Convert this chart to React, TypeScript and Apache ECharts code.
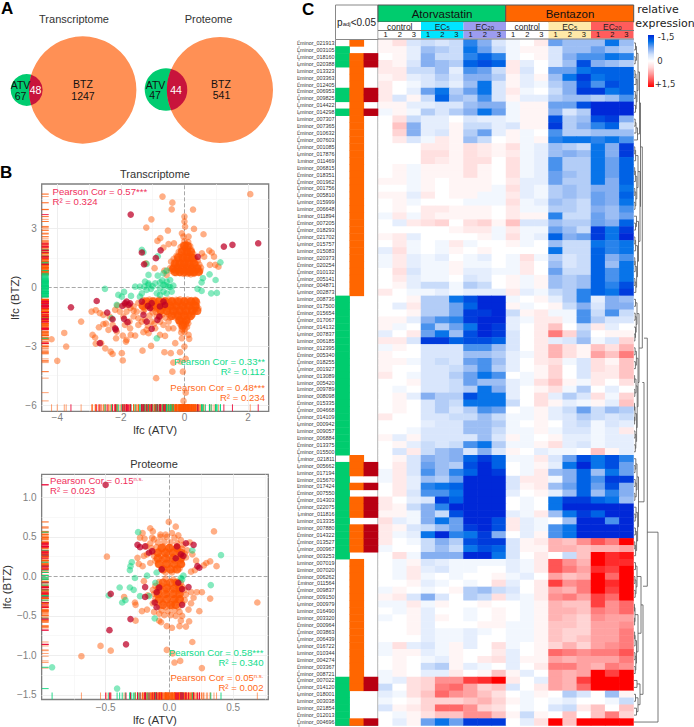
import React, { useEffect, useRef } from "react";
import * as echarts from "echarts";

const FONT = "Liberation Sans";
const GENE_IDS = ["021913","003105","018160","020388","013323","003363","012405","006953","009825","014422","014298","007307","007365","010632","007603","001085","017876","011469","006815","018351","001962","001756","005810","015999","006648","011894","007205","018293","021702","015757","015083","020373","020254","010132","005141","004871","002873","008736","017500","015654","017067","014132","007837","006185","012395","005340","018255","001927","013089","005420","009789","008098","015335","004668","014109","000942","009057","006884","013375","015500","021811","005662","017194","015670","017424","007550","014303","022075","011816","013335","007880","014322","013527","000967","003253","007019","007020","006262","011564","009837","009150","000979","016490","003320","000964","003863","006439","016722","010344","004274","003367","008721","007022","014120","018001","003038","021854","012013","004696"];
const geneLabels = GENE_IDS.map((g) => "Lminor_" + g);

// expression in tenths of a unit: 18 samples per gene
const heatRows = [
[1,3,-3,-4,-3,-4,-10,-7,-3,-1,0,2,-8,-6,-6,-6,-11,-6],
[1,1,-2,-6,-5,-4,-11,-8,-4,-1,1,1,-3,-6,-6,-8,-6,-5],
[0,1,-2,-7,-4,-4,-10,-12,-10,-1,0,1,-3,-7,-9,-9,-11,-10],
[2,1,-3,-7,-6,-5,-12,-13,-12,2,-2,0,-3,-6,-13,-7,-6,-5],
[2,2,-4,-4,-6,-2,-9,-8,-4,2,-3,0,-8,-8,-11,-12,-12,-12],
[1,2,-2,-3,-5,-3,-7,-7,-5,1,-2,1,-6,-11,-14,-11,-12,-12],
[2,0,-1,-3,-4,-2,-6,-11,-3,1,-2,-1,-5,-7,-13,-9,-13,-12],
[2,0,-2,-8,-11,-5,-8,-11,-3,2,-1,0,-4,-7,-14,-14,-11,-12],
[2,-3,1,-4,-12,-6,-5,-9,-3,1,-2,-2,-5,-6,-6,-5,-6,-9],
[1,1,-2,-2,-3,-3,-6,-7,-7,-1,1,1,-8,-8,-13,-15,-15,-15],
[-1,1,-1,-5,-3,-5,-7,-11,-8,-1,1,1,-7,-3,-5,-15,-15,-15],
[0,3,-4,-2,-2,0,-3,-2,-2,-1,1,1,-13,-5,-6,-13,-14,-7],
[0,5,-7,-2,-2,1,-4,-4,-2,-3,1,1,-14,-5,-7,-10,-12,-4],
[0,4,-7,-2,-3,1,-5,-8,-2,1,-1,0,-9,-5,-5,-6,-6,-6],
[0,2,-3,-1,2,1,-6,-4,0,1,-1,1,-10,-11,-11,-10,-11,-9],
[0,0,0,2,2,1,3,2,1,3,-1,-2,-6,-5,-4,-11,-7,-14],
[0,0,0,3,3,1,3,2,1,2,-1,-2,-6,-7,-6,-11,-7,-14],
[0,0,0,3,2,1,3,3,0,3,-1,-2,-9,-5,-5,-11,-8,-12],
[0,1,-1,1,1,1,3,1,0,3,-1,-2,-9,-5,-5,-11,-8,-12],
[0,1,-1,1,1,1,3,1,0,3,-1,-2,-8,-6,-5,-11,-8,-12],
[1,1,-1,1,0,1,1,1,0,2,-2,-2,-8,-5,-5,-11,-7,-12],
[0,0,-1,1,0,1,1,1,-1,3,-2,-1,-5,-6,-5,-7,-7,-11],
[1,1,-2,2,0,1,1,-1,-1,2,-2,-1,-5,-6,-5,-8,-7,-12],
[0,1,-1,0,0,0,-1,-1,-1,3,-1,-2,-6,-5,-4,-8,-7,-11],
[0,1,0,2,2,1,1,1,0,2,-1,-1,-5,-5,-4,-7,-6,-9],
[-1,2,-1,2,1,1,1,1,0,2,1,1,-10,-4,-4,-8,-6,-8],
[0,-2,2,3,4,0,3,4,1,5,-3,-3,-6,-5,-5,-8,-7,-12],
[0,0,0,0,0,1,2,2,-1,2,-1,-1,-8,-6,-4,-14,-11,-14],
[1,2,-2,0,0,0,0,1,-1,3,-1,-2,-12,-7,-8,-14,-11,-15],
[0,2,-1,0,-1,2,-1,0,0,1,-1,0,-6,-4,-4,-11,-10,-11],
[-2,3,-1,0,-1,1,0,1,0,0,0,0,-11,-4,-4,-12,-10,-11],
[-1,2,-2,-1,-2,0,-1,-2,0,-1,3,-1,-5,-3,-4,-12,-7,-9],
[-1,2,-2,-1,-1,1,-1,-1,0,-1,2,0,-6,-3,-4,-12,-6,-11],
[0,3,-3,-1,-1,1,-2,-2,-1,-1,2,0,-8,-4,-4,-12,-9,-11],
[0,2,-2,-1,-1,0,-3,-2,0,1,-1,1,-6,-5,-6,-12,-9,-11],
[0,1,-2,-4,-4,-1,-5,-4,0,1,-1,1,-6,-5,-6,-12,-10,-13],
[2,0,-1,-1,-2,-1,-2,-2,-2,2,-2,-1,-4,-5,-10,-12,-11,-14],
[0,0,1,-5,-5,-11,-13,-15,-15,-1,0,1,-2,-5,-10,-2,-7,-6],
[0,-2,2,-5,-5,-8,-12,-15,-15,1,-1,0,1,-4,-7,-3,-7,-7],
[0,0,1,-5,-5,-8,-14,-14,-15,-4,1,2,-1,-1,-9,-4,-9,-4],
[1,1,-2,-7,-9,-10,-14,-15,-15,-2,-1,2,2,-1,-9,-5,-3,-3],
[1,-1,0,-9,-5,-8,-11,-15,-14,-2,0,2,5,0,-4,2,-2,0],
[-2,0,2,-8,-11,-6,-13,-15,-14,-3,0,2,9,4,-5,0,1,1],
[2,2,-3,-14,-14,-12,-13,-13,-12,-3,0,2,-2,-3,-6,-1,-3,4],
[-1,1,0,-3,-3,-3,-9,-9,-6,-3,0,2,6,3,1,5,3,6],
[1,0,0,-3,-3,-3,-6,-6,-5,-2,-1,2,6,3,1,7,5,9],
[1,1,-1,-3,-4,-3,-8,-9,-6,-2,0,2,3,-1,-3,3,1,5],
[1,0,0,-3,-3,-4,-6,-9,-5,-2,0,1,4,0,-3,3,2,5],
[2,0,-1,-3,-3,-5,-8,-11,-9,0,-1,1,4,0,-3,2,2,5],
[0,0,1,-3,-3,-4,-8,-6,-6,-2,-1,3,5,1,-1,2,0,3],
[0,-1,0,-3,-3,-4,-5,-11,-7,-2,0,1,3,-1,-5,0,-2,0],
[0,1,-2,-7,-5,-5,-13,-11,-11,-2,0,3,-2,-5,-3,3,-1,4],
[0,1,0,-3,-5,-4,-11,-11,-11,-4,0,3,1,-2,-1,1,-2,5],
[0,1,0,-3,-5,-3,-5,-9,-8,0,-1,1,-2,-4,-8,-4,-6,-5],
[2,0,0,-3,-3,-4,-4,-6,-4,-1,-1,1,-2,-3,-5,-4,-3,-4],
[0,0,0,-2,-3,-3,-6,-6,-5,-1,0,1,0,-3,-4,-1,-3,-2],
[0,0,-1,-3,-3,-3,-6,-6,-4,-1,-1,1,-1,-3,-3,-1,-2,2],
[1,-2,1,-3,-3,-3,-3,-6,-3,1,-1,0,1,-2,-2,-1,-2,-2],
[0,1,-2,-4,-3,-4,-9,-11,-5,-1,-1,1,3,-2,-3,-1,-2,-2],
[0,-3,2,-4,-6,-7,-3,-7,-3,1,0,-2,-1,-1,0,5,1,-2],
[0,1,-3,-7,-6,-7,-12,-14,-12,-1,-1,2,-3,-8,-13,-11,-13,-10],
[0,2,-3,-8,-6,-5,-13,-15,-12,0,-1,1,-2,-11,-15,-11,-13,-8],
[-1,2,-3,-9,-6,-10,-12,-15,-14,0,-1,2,-6,-7,-12,-6,-11,-8],
[-1,2,-2,-6,-5,-8,-15,-15,-15,-3,2,2,-1,-7,-12,-9,-14,-14],
[0,2,-2,-10,-11,-12,-15,-15,-15,-3,1,2,-6,-8,-12,-8,-13,-7],
[0,2,-3,-9,-9,-11,-15,-15,-15,-2,0,1,-2,-6,-12,-6,-10,-7],
[2,0,-2,-3,-14,-12,-15,-15,-15,0,-1,0,-11,-14,-14,-12,-11,-6],
[2,1,-4,-7,-10,-15,-15,-15,-15,0,-1,0,-11,-15,-15,-15,-15,-15],
[1,1,-1,-7,-4,-13,-15,-15,-15,-2,-1,2,-6,-11,-14,-12,-15,-15],
[3,-2,-1,-7,-11,-8,-15,-15,-13,2,-2,-1,0,-6,-15,-15,-9,-15],
[2,1,-3,-4,-6,-8,-14,-15,-13,2,-2,-1,-9,-11,-15,-15,-15,-15],
[2,-1,-2,-11,-15,-10,-11,-14,-7,0,-2,1,-9,-11,-15,-15,-15,-15],
[2,0,-1,-4,-7,-5,-13,-14,-14,-3,1,2,6,5,8,11,9,15],
[-1,0,0,-4,-6,-4,-11,-13,-12,-3,1,1,6,6,5,6,6,7],
[0,3,-1,-7,-7,-7,-15,-15,-11,-3,0,2,0,-4,5,15,13,14],
[0,-1,1,-3,-2,-1,-1,-1,-1,-2,-1,2,11,8,6,15,13,13],
[0,-1,2,-2,-3,-1,-1,0,0,-2,-1,2,11,9,7,13,12,15],
[0,-1,2,-1,0,-1,0,0,1,-1,-2,0,7,5,6,15,10,15],
[0,0,1,-2,-1,0,-1,0,3,-2,0,2,12,8,9,15,13,15],
[-1,1,0,-1,0,1,-5,-6,-4,-3,0,2,7,6,9,15,12,15],
[1,2,-3,-7,-3,0,-5,-4,3,-2,-1,2,8,9,7,12,10,15],
[-1,-1,2,-1,1,0,0,1,0,0,-1,1,6,5,5,12,8,10],
[0,-1,1,-2,0,0,-1,0,1,0,-1,1,6,6,5,9,8,10],
[-1,0,1,-2,1,0,-1,0,1,0,-1,1,6,5,4,8,7,7],
[0,0,1,-2,0,0,0,1,1,-1,-1,1,5,5,4,7,7,8],
[0,0,1,-2,-1,-1,-2,-1,0,-1,-1,1,5,4,4,7,7,9],
[0,0,0,-2,-1,-1,-2,0,0,-1,-1,1,5,4,5,7,7,9],
[-1,3,-2,-3,-1,1,-2,0,3,-1,0,1,4,6,4,7,8,9],
[-1,1,1,-2,-1,1,0,0,2,-2,0,1,10,9,8,9,9,11],
[0,1,0,-1,-2,1,0,2,3,-2,1,1,7,6,7,7,7,9],
[0,1,0,-4,-5,1,-2,-1,0,-2,0,2,9,9,7,6,9,8],
[-1,1,0,-2,-2,2,0,1,5,1,-2,0,7,6,7,15,12,15],
[-1,-2,3,4,8,8,12,13,15,2,0,-2,7,6,12,15,15,15],
[-4,0,3,4,9,10,7,4,5,-3,0,2,7,6,10,15,15,15],
[-2,-1,3,5,10,8,7,5,3,0,-1,1,0,-5,-3,0,-6,1],
[-1,0,1,4,4,4,5,6,4,1,-1,0,-1,-2,0,0,-1,-4],
[-3,1,2,4,10,10,8,4,3,0,-1,0,-3,-4,2,5,0,5],
[0,-1,1,3,5,5,8,8,5,1,-4,1,0,5,0,5,9,4],
[0,-2,1,-8,-11,-8,-14,-14,-14,0,-2,3,15,5,15,15,15,15],
];

// rows (1-based) flagged in the padj<0.05 columns
const atvSigRows = [2,3,4,8,9,11,38,39,40,41,42,43,44,45,46,47,48,49,50,51,52,53,54,55,56,57,58,59,60,62,63,64,65,66,67,68,69,70,71,72,73,74,75,93,94,95,96,97,98,99];
const btzSigRows = [1,3,4,5,6,7,8,9,10,11,12,13,14,15,16,17,18,19,20,21,22,23,24,25,26,27,28,29,30,31,32,33,34,35,36,37,61,62,63,65,67,68,69,71,72,73,74,76,77,78,79,80,81,82,83,84,85,86,87,88,89,90,91,92,93,94,99];
const bothSigRows = [3,4,8,9,11,62,63,65,67,68,69,71,72,73,74,93,94,99];
const flagColors = ["#00cc6e","#ff6600","#b80012"];

// dendrogram: [height, left, right, optional stem row]; a plain number is a row
const dG1 = [5.5,[4,[2.5,[1.5,1,2],[1.2,3,4]],[3,[2,[1,5,6],7],[2.2,[1.3,8,9],[1.5,10,11]]]],[3.5,[2,[1.2,12,13],14],15]];
const dG2 = [6,[4,[1.6,[.8,16,17],18],[2.8,[1.4,[.7,19,20],21],[1.8,[.8,22,23],[1,24,25]]]],[4.5,[2.5,26,[1.5,27,28]],[3.5,[1.6,[.9,29,30],31],[2.6,[1.2,[.8,32,33],34],[1.8,[.9,35,36],37]]]]];
const dG3 = [5,[3,[1.5,38,39],[2.2,[1.2,40,41],[1.5,42,[.9,43,44]]]],[4,[2.4,[1.1,45,46],[1.4,47,48]],[3.2,[2,[.6,49,50],[.8,51,52]],[2.6,[1,[.5,53,54],[.6,55,56]],[1.8,[1,57,58],[1.3,59,60]]]]]];
const dG4 = [4.5,[3,[1.8,61,[1,62,63]],[2.2,[1.2,64,65],[.9,66,67]]],[3.6,[2,68,[1.2,69,70]],[2.6,[1.4,71,72],[1.6,[.8,73,74],75]]]];
const dC1 = [3,[1.5,76,77],[2,[.9,78,79],[1.2,80,81]]];
const dC2 = [4,[1,[.5,82,83],[.6,84,85]],[2.5,[1.1,[.6,86,87],88],[1.8,[1,89,90],[1.2,91,92]]]];
const dC3 = [6,[3,93,94],[4,[1.5,95,96],[2.5,97,98]]];
const dTree = [24,[13.3,[10,[8.3,[6.5,dG1,dG2,16],dG3,50],dG4,43.6],[9,[7,dC1,dC2],dC3,79.4],71.6],99];

const sampleGroups = ["control","EC|5","EC|20","control","EC|5","EC|20"];
const groupColors = ["#ffffff","#00e5ff","#9c9cf0","#ffffff","#ffe9a8","#ff5c5c"];
const replicates = ["1","2","3"];
const heatStops = ["#0028d8","#0070e8","#7aa8f0","#cfe0fb","#ffffff","#ffd8d8","#ff9a9a","#ff5050","#ff0000"];

const tOrange = [[2.07,4.74],[-.69,4.62],[-.38,4.31],[-.4,3.97],[.27,3.96],[-1.04,3.46],[0,3.6],[0,3.35],[.02,3.09],[-1.2,3.04],[-.52,2.89],[.3,2.97],[.6,2.7],[-.08,2.75],[-.03,2.58],[.13,2.58],[-.76,2.5],[-.85,2.36],[-.5,2.2],[-.33,2.24],[-.66,2.02],[.78,1.87],[.86,1.77],[.55,1.73],[.62,1.56],[.93,1.56],[1.07,1.05],[.97,1.14],[.8,1.14],[-1.22,1.22],[-.94,.97],[-.63,.85],[-.56,.63],[-.45,.97],
[0,2.35],[.05,2.2],[-.05,2.15],[.12,2.3],[.18,2.1],[-.12,2.05],[.02,2],[.1,1.95],[.22,1.9],[-.08,1.9],[-.18,1.8],[0,1.8],[.08,1.75],[.16,1.72],[.28,1.7],[-.25,1.6],[-.12,1.65],[-.02,1.6],[.06,1.55],[.14,1.58],[.24,1.55],[.33,1.5],[-.34,1.45],[-.2,1.45],[-.08,1.45],[.02,1.42],[.1,1.4],[.2,1.42],[.3,1.35],[.42,1.35],[-.42,1.3],[-.28,1.3],[-.15,1.3],[-.04,1.3],[.06,1.28],[.16,1.25],[.26,1.22],[.36,1.2],[.47,1.15],[-.3,1.15],[-.18,1.15],[-.08,1.15],[.02,1.12],[.12,1.1],[.22,1.08],[.32,1.05],[.42,1.02],[.52,1],[-.36,1],[-.24,1],[-.12,1],[-.02,.98],[.08,.95],[.18,.93],[.28,.92],[.38,.88],[.5,.85],[-.42,.85],[-.3,.85],[-.18,.85],[-.06,.82],[.04,.8],[.14,.78],[.24,.76],[.34,.75],[.46,.78],[-.26,.72],[-.14,.72],[-.03,.68],[.1,.68],[.2,.66],[.3,.68],
[-1.3,-.66],[-1.1,-.63],[-.95,-.67],[-.8,-.62],[-.65,-.65],[-.5,-.63],[-.38,-.66],[-.26,-.64],[-.14,-.62],[-.02,-.65],[.1,-.63],[.22,-.66],[.34,-.64],
[-1.45,-.8],[-1.25,-.78],[-1.05,-.82],[-.88,-.79],[-.72,-.81],[-.58,-.78],[-.45,-.82],[-.33,-.8],[-.2,-.78],[-.08,-.81],[.04,-.79],[.16,-.82],[.28,-.8],[.4,-.78],
[-1.35,-.96],[-1.15,-.93],[-.95,-.97],[-.78,-.94],[-.62,-.96],[-.5,-.93],[-.37,-.97],[-.25,-.95],[-.12,-.93],[0,-.96],[.12,-.94],[.24,-.97],[.36,-.94],
[-1.25,-1.1],[-1.02,-1.08],[-.85,-1.12],[-.68,-1.09],[-.52,-1.11],[-.4,-1.08],[-.28,-1.12],[-.15,-1.1],[-.03,-1.08],[.09,-1.11],[.21,-1.09],[.33,-1.12],[.44,-1.08],
[-.9,-1.26],[-.75,-1.23],[-.55,-1.27],[-.38,-1.24],[-.26,-1.26],[-.14,-1.23],[-.02,-1.27],[.1,-1.25],[.22,-1.23],[.34,-1.26],
[-.7,-1.4],[-.5,-1.38],[-.34,-1.42],[-.22,-1.39],[-.1,-1.41],[.02,-1.38],[.14,-1.42],[.26,-1.4],
[-.45,-1.55],[-.28,-1.53],[-.16,-1.57],[-.04,-1.54],[.08,-1.56],[.18,-1.53],[-.2,-1.7],[-.1,-1.68],[0,-1.72],[.1,-1.69],[-.15,-1.85],[-.05,-1.83],[.05,-1.87],[.12,-1.84],[-.1,-2],[0,-1.98],[.08,-2.02],[-.08,-2.15],[.02,-2.13],[-.1,-2.3],[0,-2.28],
[-4.18,-2.65],[-4,-3.75],[-3.78,-2.33],[-3.72,-3.02],[-3.25,-1.75],[-2.92,-1.24],[-2.79,-1.17],[-2.66,-1.32],[-2.55,-1.41],[-2.89,-2.43],[-2.81,-2.56],[-2.79,-2.87],[-2.62,-2.85],[-2.69,-2.04],[-2.55,-1.88],[-2.47,-1.85],[-2.39,-2.17],[-2.49,-3.11],[-2.32,-3.28],[-2.26,-3.4],[-1.97,-3.36],[-1.94,-3.73],[-2.15,-2.6],[-2.13,-2.26],[-2.26,-1.92],[-2.18,-1.15],[-2.11,-.93],[-2.03,-1.24],[-1.82,-1.24],[-1.92,-1.49],[-1.73,-1.75],[-1.87,-1.92],[-1.71,-2.09],[-1.94,-2.46],[-1.82,-2.68],[-1.84,-2.77],[-1.55,-2.46],[-1.69,-2.43],[-1.29,-2.29],[-1.13,-2.34],[-1.32,-3.23],[-1.05,-2.99],[-1.19,-2.17],[-1.45,-1.92],[-1.34,-1.75],[-1.24,-1.66],[-1.03,-1.75],[-.92,-2.09],[-.77,-2.43],[-.61,-2.48],[-.29,-2.85],[-.63,-3.31],[-.43,-3.36],[-.89,-4.63],[-.35,-3.84],[-.38,-4.3],[-.14,-3.31],[-.08,-2.6],[.13,-2.43],[.15,-2.63],[0,-3.02],[.04,-3.65],[-.05,-4.3],[.04,-5.37],[-.03,-5.79],[-.13,-3.78],[-1.5,-1.24],[-1.6,-.98],[-1.87,-.9],[-1.19,-.98],[-.87,-1.07],[-1.29,-1.24],[-1.45,-1.58],[-1.6,-1.49],[-.77,-1.75],[-.87,-1.49],[-.5,-1.75],[-.35,-2.09],[-.5,-2.09],[-.66,-1.92],[-1.1,-1.45],[-1,-1.28],[-.78,-1.5],[-.6,-1.55],[-1.15,-1.95],[-.95,-1.85],[-1.6,-1.2],[-1.7,-1.05],[-2.35,-1.5]];
const tGreen = [[-1.34,1.9],[-1.29,1.78],[-.84,1.58],[-1.19,1.19],[-1.13,.63],[-.84,.59],[-.66,.71],[-.56,.85],[-2.5,-.08],[-2.08,-.39],[-1.9,-.24],[-1.97,-.48],[-1.68,-.44],[-1.55,.03],[-1.4,.03],[-1.24,.29],[-1.26,.03],[-1.13,.12],[-1.19,-.14],[-1.34,-.31],[-1.4,-.48],[-1.13,.2],[-.92,.2],[-.77,.25],[-.66,.12],[-.56,.29],[-.45,.37],[-.35,.08],[-.5,.03],[-.77,-.05],[-.66,-.22],[-.56,-.31],[-.4,-.22],[-.77,-.39],[-.87,-.31],[-.6,.1],[-.45,.02],[-1,.05],[-.7,.35],[-1.05,-.08],[.58,.46],[.54,.25],[.79,.66],[.98,.37],[1.13,1.27],[.41,-.08],[.54,-.19],[.84,-.31],[1.02,-.29],[-.87,-2.6],[-2.29,-1.58],[-2.13,-.9]];
const tRed = [[-1.69,3.7],[-1.34,1.77],[-1.27,1.17],[-.9,1.48],[-.75,1.88],[.42,1.55],[1.24,2.07],[1.51,2.16],[2.32,2.24],[-3.57,-1.02],[-2.76,-.7],[-2.43,-1.29],[-2.26,-1.63],[-2.18,-2.09],[-2.16,-2.16],[-2.66,-2.85],[-1.9,-1.61],[-1.79,-1.78],[-1.82,-.73],[-1.76,-.9],[-1.87,-.82],[-1.71,-.82],[-1.34,-.73],[-1.03,-.81],[-1.08,-1.07],[-1.29,-1.41],[-1.19,-1.75],[-1.03,-2.12],[-.79,-1.49],[-.85,-1.66],[-.66,-.73],[-.61,-.9],[-.77,-.98],[-1.15,-.95],[-1.95,-.95]];
// the solid overplotted cores of the two orange clouds
const tCore = [[0,2.1],[.1,2.1],[-.08,1.8],[.08,1.8],[.2,1.8],[-.2,1.5],[-.05,1.5],[.1,1.5],[.25,1.5],[-.3,1.2],[-.15,1.2],[0,1.2],[.15,1.2],[.3,1.2],[-.35,.95],[-.2,.95],[-.05,.95],[.1,.95],[.25,.95],[.4,.95],[-.3,.78],[-.15,.78],[0,.78],[.15,.78],[.3,.78],[.45,.78],
[-1.2,-.72],[-1,-.72],[-.8,-.72],[-.6,-.72],[-.4,-.72],[-.2,-.72],[0,-.72],[.2,-.72],[.35,-.72],[-1.3,-.95],[-1.05,-.95],[-.85,-.95],[-.65,-.95],[-.45,-.95],[-.25,-.95],[-.05,-.95],[.15,-.95],[.35,-.95],[-.75,-1.2],[-.55,-1.2],[-.35,-1.2],[-.15,-1.2],[.05,-1.2],[.25,-1.2],[.4,-1.2],[-.4,-1.45],[-.2,-1.45],[0,-1.45],[.2,-1.45],[-.15,-1.7],[.05,-1.7],[-.05,-1.95]];
const tRugOrangeY = [2.4,2.3,2.2,2.1,2,1.9,1.8,1.7,1.6,1.5,1.4,1.3,1.2,1.1,1,.9,.8,.7,.62,-.55,-.65,-.75,-.85,-.95,-1.05,-1.15,-1.25,-1.35,-1.45,-1.55,-1.65,-1.75,-1.85,-1.95,-2.05,-2.15,-2.25,-2.35,-2.45,-2.55,-2.65,-2.75,-2.85,-2.95,-3.05,-3.15,2.75,2.9,3.1,3.35,3.6,3.95,4.3,4.75];
const tRugGreenY = [.55,.5,.45,.4,.35,.3,.25,.2,.15,.1,.05,0,-.05,-.1,-.15,-.2,-.25,-.3,-.35,-.4,-.45,-.5];
const tRugRedY = [2.05,1.88,1.55,1.17,-.73,-.98,-1.29,-1.61,-2.09,-2.85];
const tRugOrangeX = [-1.6,-1.55,-1.5,-1.45,-1.4,-1.35,-1.3,-1.25,-1.2,-1.15,-1.1,-1.05,-1,-.95,-.9,-.85,-.8,-.75,-.7,-.65,-.6,-.55,-.5,-.45,-.4,-.35,-.3,-.25,-.2,-.15,-.1,-.05,0,.05,.1,.15,.2,.25,.3,.35,.4,-1.7,-1.8,-1.9,-2,-2.1,-2.2,-2.3,-2.4,-2.5,-2.6,-2.7,-2.8,-2.9];
const tRugRedX = [-2.18,-1.82,-1.34,-1.03,-.75,-.61,.42];
const tRugGreenX = [.58,.66,.79,.98,1.02,1.13];

const pOrange = [[-.005,.69],[.05,.63],[.35,.57],[-.15,.61],[-.13,.57],[-.21,.55],[-.07,.53],[-.03,.53],[-.195,.48],[-.135,.49],[-.23,.49],[-.49,.25],[-.25,.235],[-.175,.28],[-.24,.16],[-.21,.13],[-.15,.17],[.32,.19],[.37,.13],[.29,.17],[.27,.14],[.21,.2],[.18,.28],[.16,.43],[.02,.55],[.07,.52],[-.18,.38],[-.2,.26],[.2,.08],[.17,.06],
[.69,-.33],[.32,-.28],[.255,-.2],[.215,-.2],[.235,-.44],[.17,-.34],[.155,-.57],[.08,-.63],[.13,-.635],[.02,-.65],[-.02,-.63],[-.065,-.58],[-.265,-.56],[-.215,-.44],[-.175,-.42],[-.12,-.45],[-.355,-.26],[-.27,-.33],[-.265,-.36],[.18,-.83],[-.54,-.88],[-.46,-.94],[-.69,-1.01],[-.02,-.93],[.025,-.975],[.085,-1.07],[.04,-1.09],[.255,-1.16],[.17,-.2],[.19,-.27],[.15,-.42],[.1,-.5],[.09,-.56],[-.13,-.34],[-.17,-.24],[-.2,-.06],[-.08,-.56],
[-.12,.47],[-.07,.5],[-.02,.5],[.04,.49],[.09,.46],[-.15,.42],[-.09,.43],[-.04,.44],[.01,.43],[.06,.42],[.11,.4],[-.14,.36],[-.1,.37],[-.05,.38],[0,.37],[.05,.36],[.1,.35],[.14,.33],[-.13,.31],[-.08,.32],[-.03,.32],[.02,.31],[.07,.3],[.12,.29],[-.12,.26],[-.07,.26],[-.02,.27],[.03,.25],[.08,.25],[.13,.24],[-.11,.2],[-.06,.21],[-.01,.21],[.04,.2],[.09,.2],[-.09,.15],[-.04,.15],[.01,.16],[.06,.14],[.1,.15],[-.06,.1],[-.01,.1],[.04,.09],[.08,.1],[-.03,.05],[.02,.05],
[-.03,-.03],[.03,-.04],[-.08,-.07],[-.02,-.08],[.04,-.07],[.09,-.08],[-.11,-.12],[-.06,-.12],[-.01,-.13],[.05,-.12],[.1,-.13],[-.13,-.17],[-.08,-.17],[-.03,-.18],[.02,-.17],[.07,-.18],[.12,-.17],[-.12,-.22],[-.07,-.23],[-.02,-.22],[.03,-.23],[.08,-.22],[.13,-.23],[-.11,-.28],[-.06,-.28],[-.01,-.27],[.04,-.28],[.09,-.28],[.12,-.3],[-.1,-.33],[-.05,-.33],[0,-.34],[.05,-.33],[.1,-.34],[-.08,-.38],[-.03,-.39],[.02,-.38],[.07,-.39],[-.06,-.43],[-.01,-.44],[.04,-.43],[.08,-.45],[-.04,-.49],[.01,-.49],[.05,-.5],[-.08,-.47]];
const pGreen = [[-.245,.56],[.405,.27],[.18,.33],[-.295,.18],[-.305,.13],[-.31,.08],[-.27,-.02],[-.175,.01],[.325,-.11],[-.39,-.14],[-.31,-.14],[-.28,-.17],[-.475,-.24],[-.37,-.33],[-.345,-.3],[-.23,-.25],[.09,-.02],[.11,.01],[-.1,.05],[-.11,-.08],[-.115,-.53],[-.92,-1.15],[-.41,-1.42],[-.16,-.25],[.1,-.04]];
const pRed = [[-.5,1.16],[.13,.42],[.19,.4],[-.25,.4],[-.23,.37],[-.19,.38],[-.16,.3],[-.135,.32],[.06,.38],[.09,.28],[.11,.26],[.05,.23],[.22,.13],[.235,.11],[-.06,.09],[-.19,-.135],[-.08,-.14],[-.1,-.2],[-.46,-.22],[-.19,-.26],[-.115,-.33],[-.1,-.39],[-.305,-.54],[.1,-.36],[-.47,-.68],[-.34,-.86],[.1,-.16],[.15,-.135],[.07,-.08]];
const pCore = [[-.06,.36],[0,.36],[.06,.36],[-.09,.3],[-.03,.3],[.03,.3],[.09,.3],[-.09,.23],[-.03,.23],[.03,.23],[.09,.23],[-.08,.16],[-.02,.16],[.04,.16],[.09,.16],[-.05,.09],[.01,.09],[.06,.09],
[-.05,-.08],[.01,-.08],[.06,-.08],[-.08,-.15],[-.02,-.15],[.04,-.15],[.08,-.15],[-.09,-.22],[-.03,-.22],[.03,-.22],[.08,-.22],[-.08,-.29],[-.02,-.29],[.04,-.29],[.08,-.29],[-.05,-.36],[.01,-.36],[.05,-.36]];
const pRugOrangeY = [.56,.53,.5,.47,.44,.41,.38,.35,.32,.29,.26,.23,.2,.17,.14,.11,.08,.05,.02,-.01,-.04,-.07,-.1,-.13,-.16,-.19,-.22,-.25,-.28,-.31,-.34,-.37,-.4,-.43,-.46,-.49,-.52,-.55,-.58,.62,.69,-.62,-.65];
const pRugRedY = [.42,.38,.3,.13,-.14,-.22,-.39,-.54,-.68,-.86,1.16];
const pRugOrangeX = [-.17,-.16,-.15,-.14,-.13,-.12,-.11,-.1,-.09,-.08,-.07,-.06,-.05,-.04,-.03,-.02,-.01,0,.01,.02,.03,.04,.05,.06,.07,.08,.09,.1,.11,.12,.13,.14,.15,.16,.17,.18,.19,.2,-.19,-.21,.22,.25,.27,.3];
const pRugRedX = [-.25,-.19,-.115,.06,.09,.13,.19,.235];

const tXTicks = [-4,-2,0,2];
const tYTicks = [-6,-3,0,3];
const tXMinor = [-3,-1,1];
const tYMinor = [-4.5,-1.5,1.5,4.5];
const pXTicks = [-.5,0,.5];
const pYTicks = [-1.5,-1,-.5,0,.5,1];
const pXMinor = [-.75,-.25,.25,.75];
const pYMinor = [-1.25,-.75,-.25,.25,.75,1.25];

function collectSegments(node: any, out: number[][]): { h: number; y: number } {
  if (typeof node === "number") return { h: 0, y: node - 1 };
  const [h, l, r, stem] = node;
  const a = collectSegments(l, out);
  const b = collectSegments(r, out);
  out.push([a.h, a.y, h, a.y], [b.h, b.y, h, b.y], [h, a.y, h, b.y]);
  return { h, y: stem !== undefined ? stem - 1 : (a.y + b.y) / 2 };
}

const lensA = "M31.2 74.66 A16 16 0 0 1 31.2 105.34 A53.7 53.7 0 0 1 31.2 74.66 Z";
const lensB = "M171.2 69 A21.3 21.3 0 0 1 171.2 110.3 A53 53 0 0 1 171.2 69 Z";
echarts.graphic.registerShape("lensT", echarts.graphic.extendPath(lensA, {}));
echarts.graphic.registerShape("lensP", echarts.graphic.extendPath(lensB, {}));

const ORANGE = "rgba(255,85,0,0.6)";
const GREEN = "rgba(0,210,120,0.6)";
const RED = "rgba(190,0,40,0.92)";
const RUG_ORANGE = "rgba(255,85,0,0.55)";
const RUG_GREEN = "rgba(0,210,120,0.85)";
const RUG_RED = "rgba(235,0,50,0.85)";
const supRich = { sup: { fontSize: 6, fontFamily: FONT, verticalAlign: "top", padding: [0, 0, 3, 0] } };

function txt(text: string, x: number, y: number, fontSize: number, fill: string, align = "center", extra: any = {}) {
  return { type: "text", x, y, z: 50, silent: true, style: { text, fontSize, fill, fontFamily: FONT, align, verticalAlign: "middle", ...extra } };
}
function rect(x: number, y: number, w: number, h: number, fill: string, stroke?: string) {
  return { type: "rect", z: 40, silent: true, shape: { x, y, width: w, height: h }, style: { fill, stroke: stroke || null, lineWidth: stroke ? 1 : 0 } };
}
function seg(x1: number, y1: number, x2: number, y2: number, stroke: string, lineWidth = 1, lineDash?: number[]) {
  return { type: "line", z: 45, silent: true, shape: { x1, y1, x2, y2 }, style: { stroke, lineWidth, lineDash } };
}

function buildGraphic() {
  const g: any[] = [];
  // panel A
  g.push(txt("A", 1, 8, 17, "#000", "left", { fontWeight: "bold" }));
  g.push(txt("B", 0, 172, 17, "#000", "left", { fontWeight: "bold" }));
  g.push(txt("C", 302, 9, 17, "#000", "left", { fontWeight: "bold" }));
  g.push(txt("Transcriptome", 74, 19, 11, "#333"));
  g.push(txt("Proteome", 208.5, 19, 11, "#333"));
  g.push({ type: "circle", z: 20, silent: true, shape: { cx: 26.7, cy: 90, r: 16 }, style: { fill: "#00cc70" } });
  g.push({ type: "circle", z: 21, silent: true, shape: { cx: 82.7, cy: 90, r: 53.7 }, style: { fill: "#ff9055" } });
  g.push({ type: "lensT", z: 22, silent: true, x: 0, y: 0, style: { fill: "#c8143c" } });
  g.push({ type: "circle", z: 20, silent: true, shape: { cx: 166, cy: 89.5, r: 21.3 }, style: { fill: "#00cc70" } });
  g.push({ type: "circle", z: 21, silent: true, shape: { cx: 220, cy: 90, r: 53 }, style: { fill: "#ff9055" } });
  g.push({ type: "lensP", z: 22, silent: true, x: 0, y: 0, style: { fill: "#c8143c" } });
  g.push(txt("ATV", 20.5, 84.5, 10.5, "#111"), txt("67", 20.5, 95.5, 10.5, "#111"), txt("48", 35.5, 90, 10.5, "#fff"));
  g.push(txt("BTZ", 83, 84, 10.5, "#111"), txt("1247", 83, 96, 10.5, "#111"));
  g.push(txt("ATV", 155.5, 84.5, 10.5, "#111"), txt("47", 155, 95, 10.5, "#111"), txt("44", 176, 89.5, 10.5, "#fff"));
  g.push(txt("BTZ", 221, 84, 10.5, "#111"), txt("541", 221.5, 95, 10.5, "#111"));
  g.push(seg(299, 40, 299, 727, "#b0b0b0", 1, [3, 3]));

  // panel B
  g.push(txt("Transcriptome", 155, 173.5, 11, "#333"));
  g.push(txt("Proteome", 154, 464, 11, "#333"));
  const pink = "#f0305c", gr = "#10dc8c", or = "#ff6a1a";
  g.push(txt("Pearson Cor = 0.57***", 52.5, 191, 9.6, pink, "left"), txt("R² = 0.324", 52.5, 201, 9.6, pink, "left"));
  g.push(txt("Pearson Cor = 0.33**", 265, 361.5, 9.6, gr, "right"), txt("R² = 0.112", 265, 371.5, 9.6, gr, "right"));
  g.push(txt("Pearson Cor = 0.48***", 265, 387, 9.6, or, "right"), txt("R² = 0.234", 265, 397.5, 9.6, or, "right"));
  g.push(txt("Pearson Cor = 0.15{sup|n.s.}", 50, 480.5, 9.6, pink, "left", { rich: supRich }), txt("R² = 0.023", 50, 490.5, 9.6, pink, "left"));
  g.push(txt("Pearson Cor = 0.58***", 263.5, 652, 9.6, gr, "right"), txt("R² = 0.340", 263.5, 662, 9.6, gr, "right"));
  g.push(txt("Pearson Cor = 0.05{sup|n.s.}", 263.5, 677.5, 9.6, or, "right", { rich: supRich }), txt("R² = 0.002", 263.5, 687.5, 9.6, or, "right"));

  // panel C header
  const subRich = { sub: { fontSize: 6, fontFamily: FONT, verticalAlign: "bottom" } };
  g.push(rect(335.5, 5, 42.5, 34.5, "#fff", "#888"));
  g.push(txt("p{sub|adj}<0.05", 356.5, 22, 10, "#222", "center", { rich: subRich }));
  g.push(rect(378, 5, 127.7, 17, "#00cc6e", "#555"), rect(505.7, 5, 128, 17, "#ff6600", "#555"));
  g.push(txt("Atorvastatin", 442, 13.5, 11.5, "#111"), txt("Bentazon", 570, 13.5, 11.5, "#111"));
  const cw = 255 / 18;
  sampleGroups.forEach((name, i) => {
    const x0 = 378.5 + i * 3 * cw;
    g.push(rect(x0, 22, 3 * cw, 16.5, groupColors[i]));
    const [base, sub] = name.split("|");
    g.push(txt(sub ? `${base}{sub|${sub}}` : base, x0 + 1.5 * cw, 26.5, 8.5, "#222", "center", { rich: subRich }));
    replicates.forEach((r, k) => g.push(txt(r, x0 + (k + 0.5) * cw, 34.7, 7.5, "#111")));
  });
  g.push(seg(378, 30.5, 634, 30.5, "#777"), seg(378, 39, 634, 39, "#777"));
  // colour key
  g.push(txt("relative", 658, 9, 11, "#222", "center", { fontFamily: "DejaVu Sans" }));
  g.push(txt("expression", 665, 23, 11, "#222", "center", { fontFamily: "DejaVu Sans" }));
  g.push({
    type: "rect", z: 40, silent: true, shape: { x: 648, y: 35, width: 6, height: 52 },
    style: { fill: new echarts.graphic.LinearGradient(0, 0, 0, 1, heatStops.map((c, i) => ({ offset: i / (heatStops.length - 1), color: c }))) },
  });
  g.push(txt("-1,5", 666, 36.5, 8.5, "#333", "center", { fontFamily: "DejaVu Sans" }));
  g.push(txt("0", 660, 61, 8.5, "#333", "center", { fontFamily: "DejaVu Sans" }));
  g.push(txt("+1,5", 665, 84, 8.5, "#333", "center", { fontFamily: "DejaVu Sans" }));
  return g;
}

function scatterSeries(pts: number[][], color: string, axis: number, z: number, extra: any = {}) {
  return { type: "scatter", data: pts, xAxisIndex: axis, yAxisIndex: axis, symbolSize: 6.6, z, silent: true, itemStyle: { color, borderWidth: 0 }, ...extra };
}

// one tick per value along the left (side 0) or bottom (side 1) of a panel
function rugSeries(ys: number[], xs: number[], color: string, axis: number, ext: number[]) {
  const data = [...ys.map((v) => [ext[0], v]), ...xs.map((v) => [v, ext[1]])];
  const nY = ys.length;
  return {
    type: "custom", coordinateSystem: "cartesian2d", xAxisIndex: axis, yAxisIndex: axis, data, z: 2, silent: true, clip: false,
    encode: { x: 0, y: 1 },
    renderItem: (p: any, api: any) => {
      const a = api.coord([api.value(0), api.value(1)]);
      const isLeft = p.dataIndex < nY;
      return {
        type: "line",
        shape: { x1: a[0], y1: a[1], x2: isLeft ? a[0] + 7 : a[0], y2: isLeft ? a[1] : a[1] - 7 },
        style: { stroke: color, lineWidth: 1, fill: null },
      };
    },
  };
}
const ysOf = (pts: number[][]) => pts.map((p) => p[1]);
const xsOf = (pts: number[][]) => pts.map((p) => p[0]);

function gridLines(xMajor: number[], yMajor: number[], xMinor: number[], yMinor: number[]) {
  const major = { color: "#ececec", width: 0.9, type: "solid" };
  const minor = { color: "#f4f4f4", width: 0.6, type: "solid" };
  const zero = { color: "#a8a8a8", width: 1, type: "dashed" };
  return {
    silent: true, symbol: "none", z: 1, animation: false, label: { show: false },
    data: [
      ...xMinor.map((v) => ({ xAxis: v, lineStyle: minor })),
      ...yMinor.map((v) => ({ yAxis: v, lineStyle: minor })),
      ...xMajor.map((v) => ({ xAxis: v, lineStyle: v === 0 ? zero : major })),
      ...yMajor.map((v) => ({ yAxis: v, lineStyle: v === 0 ? zero : major })),
    ],
  };
}

function valueAxis(grid: number, min: number, max: number, ticks: number[], name: string, gap: number, decimals: number, margin: number) {
  const fmt = (v: number) => Number(v).toFixed(decimals).replace("-", "\u2212");
  return {
    type: "value", gridIndex: grid, min, max, name, nameLocation: "middle", nameGap: gap,
    nameTextStyle: { fontFamily: FONT, fontSize: 11.5, color: "#333" },
    axisLine: { show: false },
    axisTick: { show: true, length: 2.5, customValues: ticks, lineStyle: { color: "#888" } },
    axisLabel: { customValues: ticks, formatter: fmt, fontFamily: FONT, fontSize: 10, color: "#7f7f7f", margin, hideOverlap: false },
    splitLine: { show: false },
  };
}

function hidden(type: string, grid: number, extra: any = {}) {
  return { type, gridIndex: grid, show: false, axisLine: { show: false }, axisTick: { show: false }, axisLabel: { show: false }, splitLine: { show: false }, ...extra };
}

function buildOption() {
  const rows = geneLabels.map((_, i) => i);
  const heat: number[][] = [];
  heatRows.forEach((r, y) => r.forEach((v, x) => heat.push([x, y, v])));
  const segs: number[][] = [];
  collectSegments(dTree, segs);
  const flags: number[][] = [
    ...atvSigRows.map((r) => [0, r - 1, 0]),
    ...btzSigRows.map((r) => [1, r - 1, 1]),
    ...bothSigRows.map((r) => [2, r - 1, 2]),
  ];
  const T = { x: [-4.49, 2.65], y: [5.26, -6.32] };
  const P = { x: [-1.002, 0.776], y: [1.293, -1.558] };
  const tExt = [T.x[0], T.y[1]];
  const pExt = [P.x[0], P.y[1]];
  return {
    animation: false,
    backgroundColor: "#ffffff",
    graphic: { elements: buildGraphic() },
    grid: [
      { left: 41.7, top: 184, width: 227, height: 227.3, show: true, borderColor: "#7f7f7f", borderWidth: 1.3, backgroundColor: "transparent" },
      { left: 40.7, top: 474.3, width: 227.6, height: 226.4, show: true, borderColor: "#7f7f7f", borderWidth: 1.3, backgroundColor: "transparent" },
      { left: 335.5, top: 39.5, width: 42.5, height: 686, show: true, borderColor: "#888", borderWidth: 1, backgroundColor: "#fff" },
      { left: 378.5, top: 39.5, width: 255, height: 686, show: false },
      { left: 634, top: 39.5, width: 30, height: 686, show: false },
    ],
    xAxis: [
      valueAxis(0, T.x[0], T.x[1], tXTicks, "lfc (ATV)", 11, 0, 1.5),
      valueAxis(1, P.x[0], P.x[1], pXTicks, "lfc (ATV)", 14.5, 1, 3),
      hidden("category", 2, { data: ["ATV", "BTZ", "both"] }),
      hidden("category", 3, { data: heatRows[0].map((_, i) => "s" + i) }),
      hidden("value", 4, { min: 0, max: 30 }),
    ],
    yAxis: [
      valueAxis(0, T.y[1], T.y[0], tYTicks, "lfc (BTZ)", 18, 0, 5),
      valueAxis(1, P.y[1], P.y[0], pYTicks, "lfc (BTZ)", 25, 1, 5),
      {
        type: "category", gridIndex: 2, data: geneLabels, inverse: true,
        axisLine: { show: false }, axisTick: { show: false }, splitLine: { show: false },
        axisLabel: { interval: 0, fontFamily: FONT, fontSize: 5.4, color: "#333", margin: 1, hideOverlap: false },
      },
      hidden("category", 3, { data: rows, inverse: true }),
      hidden("value", 4, { min: -0.5, max: 98.5, inverse: true }),
    ],
    visualMap: [
      { type: "continuous", show: false, seriesIndex: 0, dimension: 2, min: -15, max: 15, inRange: { color: heatStops } },
      { type: "continuous", show: false, seriesIndex: 1, dimension: 2, min: 0, max: 2, inRange: { color: flagColors } },
    ],
    series: [
      { type: "heatmap", xAxisIndex: 3, yAxisIndex: 3, data: heat, silent: true, progressive: 0, itemStyle: { borderWidth: 0 } },
      { type: "heatmap", xAxisIndex: 2, yAxisIndex: 2, data: flags, silent: true, progressive: 0, itemStyle: { borderWidth: 0 } },
      rugSeries([...ysOf(tOrange), ...tRugOrangeY], [...xsOf(tOrange), ...tRugOrangeX], RUG_ORANGE, 0, tExt),
      rugSeries([...ysOf(tGreen), ...tRugGreenY], [...xsOf(tGreen), ...tRugGreenX], RUG_GREEN, 0, tExt),
      rugSeries([...ysOf(tRed), ...tRugRedY], [...xsOf(tRed), ...tRugRedX], RUG_RED, 0, tExt),
      rugSeries([...ysOf(pOrange), ...pRugOrangeY], [...xsOf(pOrange), ...pRugOrangeX], RUG_ORANGE, 1, pExt),
      rugSeries(ysOf(pGreen), xsOf(pGreen), RUG_GREEN, 1, pExt),
      rugSeries([...ysOf(pRed), ...pRugRedY], [...xsOf(pRed), ...pRugRedX], RUG_RED, 1, pExt),
      scatterSeries(tOrange, ORANGE, 0, 3, { markLine: gridLines(tXTicks, tYTicks, tXMinor, tYMinor) }),
      scatterSeries(pOrange, ORANGE, 1, 3, { markLine: gridLines(pXTicks, pYTicks, pXMinor, pYMinor) }),
      scatterSeries(tCore, "#ff5500", 0, 3, { symbolSize: 8.5 }),
      scatterSeries(pCore, "#ff5500", 1, 3, { symbolSize: 8.5 }),
      scatterSeries(tGreen, GREEN, 0, 4),
      scatterSeries(pGreen, GREEN, 1, 4),
      scatterSeries(tRed, RED, 0, 5),
      scatterSeries(pRed, RED, 1, 5),
      {
        type: "custom", coordinateSystem: "cartesian2d", xAxisIndex: 4, yAxisIndex: 4, data: segs, silent: true, clip: false,
        encode: { x: [0, 2], y: [1, 3] },
        renderItem: (_: any, api: any) => {
          const a = api.coord([api.value(0), api.value(1)]);
          const b = api.coord([api.value(2), api.value(3)]);
          return { type: "line", shape: { x1: a[0], y1: a[1], x2: b[0], y2: b[1] }, style: { stroke: "#555", lineWidth: 0.8, fill: null } };
        },
      },
    ],
  };
}

export default function App() {
  const ref = useRef<HTMLDivElement>(null);
  useEffect(() => {
    const chart = echarts.init(ref.current!, null, { renderer: "svg" });
    chart.setOption(buildOption() as any);
    return () => chart.dispose();
  }, []);
  return <div ref={ref} style={{ position: "absolute", left: 0, top: 0, width: 694, height: 727 }} />;
}
